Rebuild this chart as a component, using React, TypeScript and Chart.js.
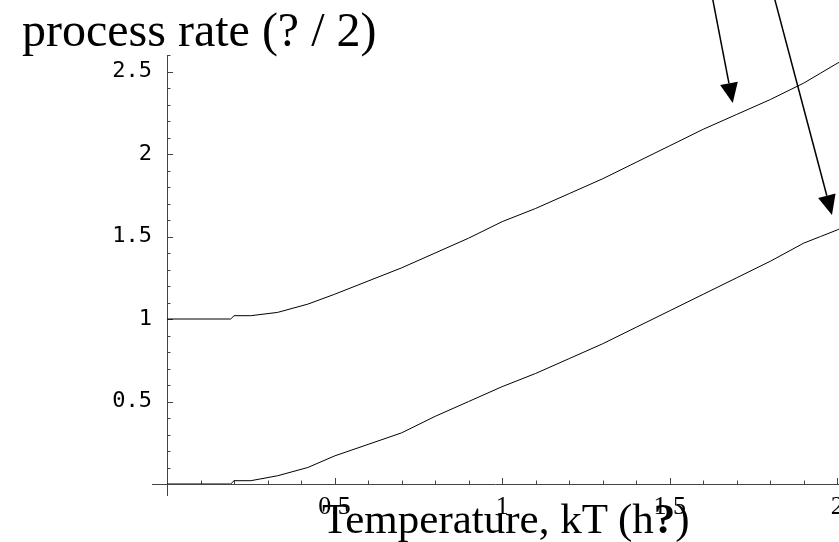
import React, { useEffect, useRef } from "react";
import { Chart, registerables } from "chart.js";

Chart.register(...registerables);

// ---- data ----
const temperature = [0, 0.19, 0.2, 0.25, 0.33, 0.42, 0.5, 0.6, 0.7, 0.8, 0.9, 1.0, 1.1, 1.2, 1.3, 1.4, 1.5, 1.6, 1.7, 1.8, 1.9, 1.95, 2.0, 2.01];
const upperRate = [1, 1, 1.02, 1.02, 1.04, 1.09, 1.15, 1.23, 1.31, 1.4, 1.49, 1.59, 1.67, 1.76, 1.85, 1.95, 2.05, 2.15, 2.24, 2.33, 2.43, 2.49, 2.55, 2.56];
const lowerRate = [0, 0, 0.02, 0.02, 0.05, 0.1, 0.17, 0.24, 0.31, 0.41, 0.5, 0.59, 0.67, 0.76, 0.85, 0.95, 1.05, 1.15, 1.25, 1.35, 1.46, 1.5, 1.54, 1.55];

const xTickValues = [0.5, 1, 1.5, 2];
const xTickLabels = ["0.5", "1", "1.5", "2"];
const yTickValues = [0.5, 1, 1.5, 2, 2.5];
const yTickLabels = ["0.5", "1", "1.5", "2", "2.5"];
const xMinorTicks = [0.1, 0.2, 0.3, 0.4, 0.6, 0.7, 0.8, 0.9, 1.1, 1.2, 1.3, 1.4, 1.6, 1.7, 1.8, 1.9];
const yMinorTicks = [0.1, 0.2, 0.3, 0.4, 0.6, 0.7, 0.8, 0.9, 1.1, 1.2, 1.3, 1.4, 1.6, 1.7, 1.8, 1.9, 2.1, 2.2, 2.3, 2.4, 2.6];

// arrows (data coordinates): start -> tip
const arrowStartX = [1.628, 1.813];
const arrowStartY = [2.94, 2.94];
const arrowTipX = [1.688, 1.984];
const arrowTipY = [2.309, 1.63];

const axesPlugin = {
  id: "mmaAxes",
  beforeDatasetsDraw(chart: any) {
    const ctx = chart.ctx;
    const xs = chart.scales.x;
    const ys = chart.scales.y;
    const x0 = xs.getPixelForValue(0);
    const y0 = ys.getPixelForValue(0);
    ctx.save();
    ctx.strokeStyle = "#444";
    ctx.lineWidth = 1;
    ctx.beginPath();
    ctx.moveTo(x0 - 15, y0 + 0.5);
    ctx.lineTo(chart.width, y0 + 0.5);
    ctx.moveTo(x0 + 0.5, ys.getPixelForValue(2.6));
    ctx.lineTo(x0 + 0.5, y0 + 12);
    for (const v of xTickValues) {
      const p = Math.round(xs.getPixelForValue(v)) + 0.5;
      ctx.moveTo(p, y0);
      ctx.lineTo(p, y0 - 6);
    }
    for (const v of xMinorTicks) {
      const p = Math.round(xs.getPixelForValue(v)) + 0.5;
      ctx.moveTo(p, y0);
      ctx.lineTo(p, y0 - 3.5);
    }
    for (const v of yTickValues) {
      const p = Math.round(ys.getPixelForValue(v)) + 0.5;
      ctx.moveTo(x0, p);
      ctx.lineTo(x0 + 6, p);
    }
    for (const v of yMinorTicks) {
      const p = Math.round(ys.getPixelForValue(v)) + 0.5;
      ctx.moveTo(x0, p);
      ctx.lineTo(x0 + 3.5, p);
    }
    ctx.stroke();
    ctx.restore();
  },
  afterDraw(chart: any) {
    const ctx = chart.ctx;
    const xs = chart.scales.x;
    const ys = chart.scales.y;
    ctx.save();
    ctx.strokeStyle = "#000";
    ctx.fillStyle = "#000";
    ctx.lineWidth = 1.5;
    for (let i = 0; i < arrowTipX.length; i++) {
      const sx = xs.getPixelForValue(arrowStartX[i]);
      const sy = ys.getPixelForValue(arrowStartY[i]);
      const tx = xs.getPixelForValue(arrowTipX[i]);
      const ty = ys.getPixelForValue(arrowTipY[i]);
      const dx = tx - sx;
      const dy = ty - sy;
      const len = Math.hypot(dx, dy);
      const ux = dx / len;
      const uy = dy / len;
      const headLen = 20;
      const halfW = 9;
      const bx = tx - ux * headLen;
      const by = ty - uy * headLen;
      ctx.beginPath();
      ctx.moveTo(sx, sy);
      ctx.lineTo(bx, by);
      ctx.stroke();
      ctx.beginPath();
      ctx.moveTo(tx, ty);
      ctx.lineTo(bx - uy * halfW, by + ux * halfW);
      ctx.lineTo(bx + uy * halfW, by - ux * halfW);
      ctx.closePath();
      ctx.fill();
    }
    ctx.restore();
  },
};

export default function App() {
  const canvasRef = useRef<HTMLCanvasElement | null>(null);

  useEffect(() => {
    if (!canvasRef.current) return;
    const chart = new Chart(canvasRef.current, {
      type: "line",
      data: {
        datasets: [
          {
            label: "upper",
            data: temperature.map((t, i) => ({ x: t, y: upperRate[i] })),
            borderColor: "#000",
            borderWidth: 1,
            pointRadius: 0,
            tension: 0,
            fill: false,
          },
          {
            label: "lower",
            data: temperature.map((t, i) => ({ x: t, y: lowerRate[i] })),
            borderColor: "#000",
            borderWidth: 1,
            pointRadius: 0,
            tension: 0,
            fill: false,
          },
        ],
      },
      options: {
        responsive: false,
        animation: false,
        devicePixelRatio: 1,
        events: [],
        layout: { padding: { top: 55, left: 0, right: 0, bottom: 0 } },
        plugins: { legend: { display: false }, tooltip: { enabled: false }, title: { display: false } },
        scales: {
          x: {
            type: "linear",
            min: 0,
            max: 2.005,
            grid: { display: false, drawTicks: false },
            border: { display: false },
            afterBuildTicks: (s: any) => {
              s.ticks = xTickValues.map((v) => ({ value: v }));
            },
            afterFit: (s: any) => {
              s.height = 58;
              s.paddingLeft = 0;
              s.paddingRight = 0;
            },
            ticks: {
              autoSkip: false,
              maxRotation: 0,
              minRotation: 0,
              padding: 8,
              color: "#000",
              font: { family: "'Liberation Serif', 'Times New Roman', serif", size: 26 },
              callback: (v: any) => xTickLabels[xTickValues.indexOf(Number(v))],
            },
          },
          y: {
            type: "linear",
            min: 0,
            max: 2.6,
            grid: { display: false, drawTicks: false },
            border: { display: false },
            afterBuildTicks: (s: any) => {
              s.ticks = yTickValues.map((v) => ({ value: v }));
            },
            afterFit: (s: any) => {
              s.width = 167;
              s.paddingTop = 0;
              s.paddingBottom = 0;
            },
            ticks: {
              autoSkip: false,
              padding: 15,
              color: "#000",
              font: { family: "'DejaVu Sans Mono', monospace", size: 22 },
              callback: (v: any) => yTickLabels[yTickValues.indexOf(Number(v))],
            },
          },
        },
      },
      plugins: [axesPlugin],
    } as any);
    return () => chart.destroy();
  }, []);

  const serif = "'Liberation Serif', 'Times New Roman', serif";
  return (
    <div style={{ position: "absolute", left: 0, top: 0, width: 839, height: 542, overflow: "hidden", background: "#fff" }}>
      <canvas ref={canvasRef} width={839} height={542} style={{ position: "absolute", left: 0, top: 0, width: 839, height: 542 }} />
      <div style={{ position: "absolute", left: 22, top: 6, fontFamily: serif, fontSize: 48, lineHeight: 1, whiteSpace: "nowrap", color: "#000" }}>
        process rate (? / 2)
      </div>
      <div style={{ position: "absolute", left: 322, top: 497, fontFamily: serif, fontSize: 43, lineHeight: 1, whiteSpace: "nowrap", color: "#000" }}>
        Temperature, kT (h<b>?</b>)
      </div>
    </div>
  );
}
